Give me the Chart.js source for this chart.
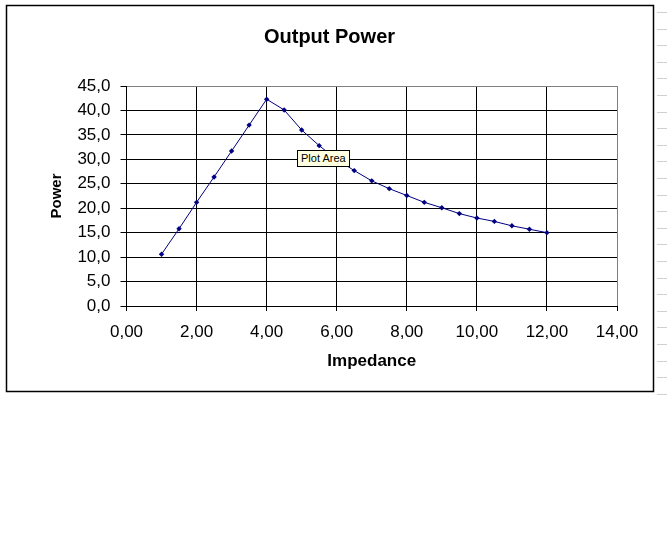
<!DOCTYPE html>
<html>
<head>
<meta charset="utf-8">
<script src="https://cdn.jsdelivr.net/npm/chart.js@4/dist/chart.umd.min.js"></script>
<style>
	html, body { margin: 0; padding: 0; background: #fff; }
	#wrap { position: relative; width: 667px; height: 545px; }
	#tip {
		position: absolute; left: 297px; top: 150px; height: 15px;
		padding: 0 3px; background: #ffffe1; border: 1px solid #000;
		font: 11px "Liberation Sans", Arial, sans-serif; line-height: 15px; color: #000;
	}
</style>
</head>
<body>
<div id="wrap">
	<canvas id="powerChart" width="667" height="545"></canvas>
	<div id="tip">Plot Area</div>
</div>
<script>
// impedance (x) and output power (y)
var impedance = [1, 1.5, 2, 2.5, 3, 3.5, 4, 4.5, 5, 5.5, 6, 6.5, 7, 7.5, 8, 8.5, 9, 9.5, 10, 10.5, 11, 11.5, 12];
var power = [10.6, 15.8, 21.2, 26.4, 31.7, 37.0, 42.3, 40.1, 36.0, 32.8, 30.0, 27.7, 25.6, 24.0, 22.6, 21.2, 20.1, 18.9, 18.0, 17.3, 16.4, 15.7, 15.0];
var xTicks = [0, 2, 4, 6, 8, 10, 12, 14];
var yTicks = [0, 5, 10, 15, 20, 25, 30, 35, 40, 45];

var FONT = '"Liberation Sans", Arial, sans-serif';

function commaNum(v, d) {
	return Number(v).toFixed(d).replace('.', ',');
}

// frame of the chart object + bits of the sheet behind it
var framePlugin = {
	id: 'frame',
	beforeDraw: function(chart) {
		var c = chart.ctx;
		c.save();
		c.fillStyle = '#fff';
		c.fillRect(0, 0, chart.width, chart.height);
		c.strokeStyle = '#d0d0d0';
		c.lineWidth = 1;
		for (var y = 12; y < 400; y += 16.6) {
			c.beginPath();
			c.moveTo(657, Math.round(y) + 0.5);
			c.lineTo(667, Math.round(y) + 0.5);
			c.stroke();
		}
		c.strokeStyle = '#000';
		c.lineWidth = 1.5;
		c.strokeRect(6.5, 5.5, 647, 386);
		c.restore();
	}
};

var ctx = document.getElementById('powerChart').getContext('2d');
var chart = new Chart(ctx, {
	type: 'line',
	data: {
		datasets: [{
			label: 'Power',
			data: impedance.map(function(x, i) { return {x: x, y: power[i]}; }),
			borderColor: '#000080',
			backgroundColor: '#000080',
			borderWidth: 1,
			pointStyle: 'rectRot',
			pointRadius: 2.7,
			pointBorderWidth: 0,
			tension: 0
		}]
	},
	options: {
		responsive: false,
		animation: false,
		events: [],
		layout: { padding: { left: 6, top: 5, right: 14, bottom: 154 } },
		plugins: {
			legend: { display: false },
			tooltip: { enabled: false },
			title: {
				display: true,
				text: 'Output Power',
				color: '#000',
				font: { family: FONT, size: 20, weight: 'bold' },
				padding: { top: 20, bottom: 37 }
			}
		},
		scales: {
			x: {
				type: 'linear',
				min: xTicks[0],
				max: xTicks[xTicks.length - 1],
				afterBuildTicks: function(s) { s.ticks = xTicks.map(function(v) { return {value: v}; }); },
				afterFit: function(s) { s.height = 85; },
				ticks: {
					color: '#000',
					font: { family: FONT, size: 17 },
					padding: 11,
					maxRotation: 0,
					callback: function(v) { return commaNum(v, 2); }
				},
				grid: {
					color: function(c) { return c.tick && c.tick.value === 14 ? '#808080' : '#000'; },
					tickColor: '#000',
					tickLength: 5
				},
				border: { color: '#000' },
				title: {
					display: true,
					text: 'Impedance',
					color: '#000',
					font: { family: FONT, size: 17, weight: 'bold' },
					padding: { top: 0, bottom: 19 }
				}
			},
			y: {
				min: yTicks[0],
				max: yTicks[yTicks.length - 1],
				afterBuildTicks: function(s) { s.ticks = yTicks.map(function(v) { return {value: v}; }); },
				afterFit: function(s) { s.width = 120.5; },
				ticks: {
					color: '#000',
					font: { family: FONT, size: 17 },
					padding: 10,
					callback: function(v) { return commaNum(v, 1); }
				},
				grid: {
					color: function(c) { return c.tick && c.tick.value === 45 ? '#808080' : '#000'; },
					tickColor: '#000',
					tickLength: 6
				},
				border: { color: '#000' },
				title: {
					display: true,
					text: 'Power',
					color: '#000',
					font: { family: FONT, size: 15, weight: 'bold' },
					padding: { top: 42, bottom: 0 }
				}
			},
			// empty right-hand scale, only keeps room between plot and frame
			spacer: {
				type: 'linear',
				position: 'right',
				min: 0,
				max: 1,
				ticks: { display: false },
				grid: { display: false },
				border: { display: false },
				afterFit: function(s) { s.width = 36; }
			}
		}
	},
	plugins: [framePlugin]
});
</script>
</body>
</html>
